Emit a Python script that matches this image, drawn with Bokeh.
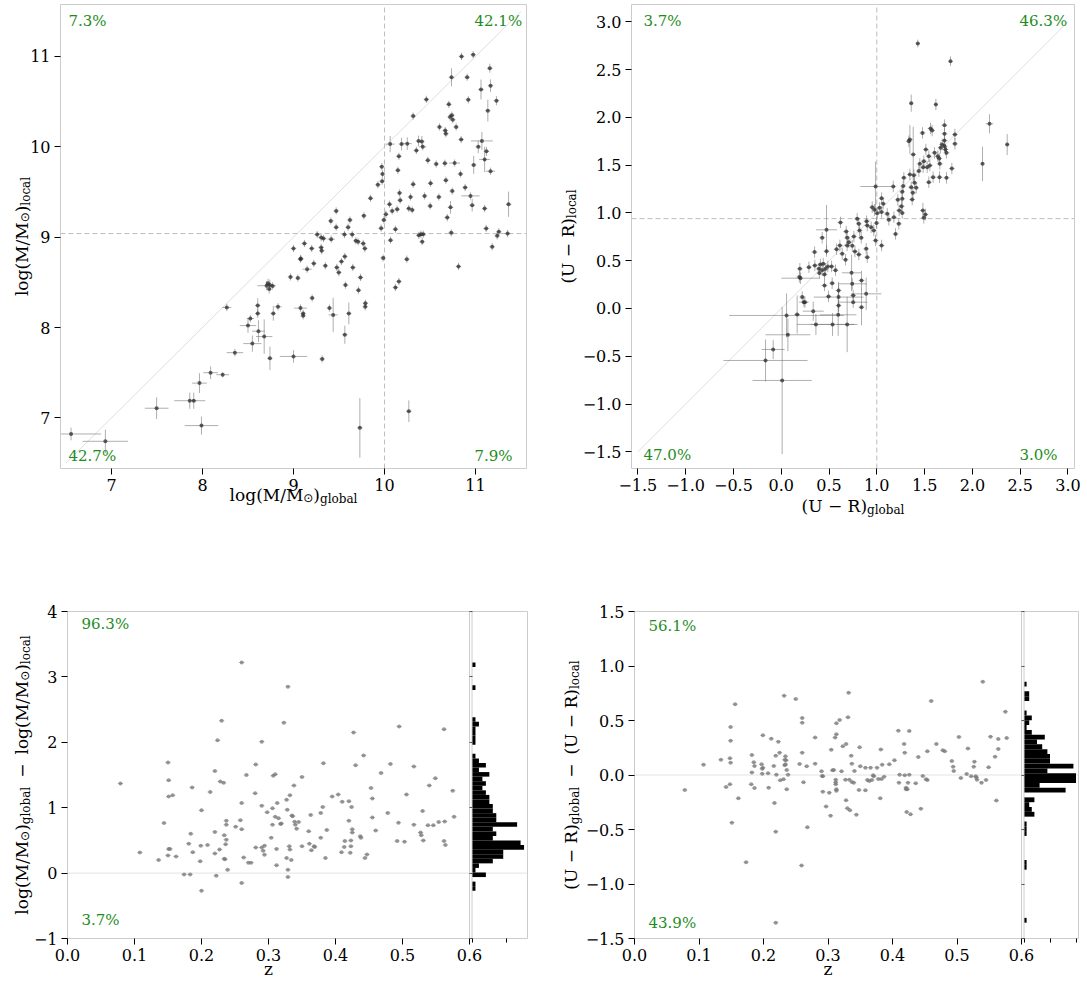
import glob
import numpy as np
from bokeh.plotting import figure
from bokeh.models import Range1d, FixedTicker, Label, LinearAxis, CustomJSTickFormatter
from bokeh.layouts import column, row
from bokeh.embed import file_html
from bokeh.resources import INLINE

# ---------------------------------------------------------------- data
# top-left: stellar mass, global vs local
tl_global = [6.556, 6.933, 7.496, 7.86, 7.904, 7.989, 7.967, 8.089, 8.222, 8.267, 8.356, 8.50, 8.526, 8.548, 8.607, 8.607, 8.615, 8.678, 8.741, 8.704, 8.72, 8.74, 8.733, 8.77, 8.778, 8.83,
             10.846, 10.974, 11.157, 10.736, 10.908, 11.165, 11.06, 10.92, 11.23, 10.46,
             11.135, 10.707, 10.74, 10.75, 10.72, 10.315, 10.604, 10.667, 10.674, 10.787,
             10.842, 11.07, 11.03, 11.12, 11.10, 10.98, 11.165, 10.062, 10.187, 10.25,
             10.374, 10.41, 10.42, 10.35, 10.158, 10.147, 10.476, 10.568, 10.663, 10.77,
             10.835, 9.97, 9.978, 9.974, 9.927, 9.846, 10.315, 10.506, 10.674, 10.744,
             10.886, 10.945, 10.963, 11.10, 11.363, 10.597, 10.44, 10.502, 10.725, 10.689,
             10.165, 10.172, 10.055, 10.139, 10.084, 10.267, 10.304, 10.286, 10.015, 9.993,
             9.963, 10.12, 10.066, 9.985, 10.245, 10.12, 10.158, 10.377, 10.40, 10.425,
             10.414, 10.733, 11.117, 11.256, 11.238, 11.352, 11.183, 10.813, 10.267, 9.729,
             9.0, 9.12, 9.2, 9.304, 9.31, 9.26, 9.304, 9.33, 9.414, 9.41,
             9.469, 9.469, 9.56, 9.60, 9.62, 9.645, 9.685, 9.71, 9.773, 9.766,
             9.784, 9.08, 9.077, 9.048, 8.967, 9.15, 9.223, 9.35, 9.476, 9.498,
             9.527, 9.564, 9.652, 9.571, 9.736, 9.714, 9.205, 9.79, 9.788, 9.077,
             9.106, 9.106, 9.395, 9.436, 9.608, 9.564, 9.0, 9.315]
tl_local = [6.822, 6.741, 7.107, 7.19, 7.19, 6.915, 7.385, 7.50, 7.478, 8.222, 7.722, 8.022, 8.10, 7.822, 8.244, 8.156, 7.96, 7.90, 7.659, 8.463, 8.49, 8.47, 8.426, 8.46, 8.156, 8.23,
            11.0, 11.02, 10.87, 10.77, 10.77, 10.676, 10.635, 10.52, 10.51, 10.525,
            10.40, 10.47, 10.35, 10.30, 10.33, 10.34, 10.22, 10.18, 10.145, 10.22,
            10.08, 10.065, 10.0, 9.95, 9.86, 9.80, 9.73, 10.03, 10.03, 10.035,
            10.064, 10.06, 10.0, 9.96, 9.895, 9.74, 9.85, 9.81, 9.818, 9.82,
            9.70, 9.78, 9.70, 9.62, 9.58, 9.43, 9.586, 9.597, 9.63, 9.51,
            9.55, 9.457, 9.354, 9.317, 9.365, 9.445, 9.457, 9.346, 9.33, 9.217,
            9.49, 9.41, 9.365, 9.31, 9.29, 9.317, 9.302, 9.445, 9.254, 9.19,
            9.10, 9.088, 8.967, 8.77, 8.757, 8.444, 8.51, 9.02, 9.033, 9.033,
            8.95, 9.048, 9.096, 9.06, 9.015, 9.04, 8.893, 8.676, 7.074, 6.89,
            8.875, 8.93, 8.875, 8.886, 8.85, 9.03, 8.996, 8.985, 8.978, 9.18,
            9.29, 9.11, 9.03, 9.11, 9.19, 9.03, 8.96, 8.95, 9.236, 8.93,
            8.875, 8.764, 8.757, 8.547, 8.56, 8.646, 8.71, 8.683, 8.665, 8.61,
            8.73, 8.787, 8.665, 8.47, 8.555, 8.414, 8.326, 8.27, 8.23, 8.215,
            8.156, 8.13, 8.215, 8.14, 8.156, 7.92, 7.68, 7.652]
tl_global_err = [0.33, 0.25, 0.13, 0.17, 0.03, 0.185, 0.08, 0.08, 0.07, 0.05, 0.09, 0.09, 0.04, 0.10, 0.03, 0.03, 0.07, 0.09, 0.03, 0.10, 0.03, 0.03, 0.03, 0.03, 0.03, 0.04,
                 0.03, 0.03, 0.03, 0.03, 0.03, 0.03, 0.03, 0.03, 0.03, 0.03,
                 0.03, 0.03, 0.03, 0.03, 0.03, 0.03, 0.03, 0.03, 0.03, 0.03,
                 0.03, 0.12, 0.03, 0.03, 0.06, 0.03, 0.05, 0.05, 0.03, 0.05,
                 0.03, 0.03, 0.04, 0.03, 0.03, 0.03, 0.03, 0.03, 0.03, 0.06,
                 0.03, 0.03, 0.03, 0.03, 0.03, 0.03, 0.03, 0.03, 0.03, 0.03,
                 0.03, 0.10, 0.03, 0.03, 0.03, 0.03, 0.03, 0.03, 0.03, 0.03,
                 0.03, 0.03, 0.03, 0.03, 0.03, 0.03, 0.03, 0.03, 0.03, 0.03,
                 0.03, 0.03, 0.03, 0.03, 0.03, 0.03, 0.03, 0.03, 0.03, 0.03,
                 0.03, 0.03, 0.03, 0.03, 0.03, 0.03, 0.03, 0.03, 0.03, 0.03,
                 0.03, 0.03, 0.03, 0.03, 0.03, 0.03, 0.03, 0.03, 0.04, 0.03,
                 0.03, 0.03, 0.03, 0.03, 0.03, 0.03, 0.03, 0.03, 0.03, 0.03,
                 0.03, 0.03, 0.03, 0.03, 0.03, 0.05, 0.03, 0.03, 0.03, 0.03,
                 0.03, 0.03, 0.03, 0.03, 0.03, 0.03, 0.03, 0.03, 0.03, 0.07,
                 0.03, 0.03, 0.03, 0.05, 0.03, 0.03, 0.15, 0.03]
tl_local_err = [0.07, 0.13, 0.12, 0.09, 0.09, 0.10, 0.11, 0.07, 0.03, 0.04, 0.04, 0.08, 0.04, 0.09, 0.08, 0.05, 0.12, 0.19, 0.13, 0.05, 0.05, 0.06, 0.05, 0.04, 0.08, 0.04,
                0.04, 0.04, 0.05, 0.10, 0.04, 0.07, 0.11, 0.04, 0.05, 0.04,
                0.12, 0.04, 0.04, 0.04, 0.04, 0.04, 0.04, 0.04, 0.04, 0.04,
                0.04, 0.10, 0.07, 0.05, 0.14, 0.10, 0.04, 0.09, 0.07, 0.07,
                0.06, 0.06, 0.04, 0.04, 0.04, 0.04, 0.04, 0.04, 0.04, 0.04,
                0.04, 0.04, 0.04, 0.04, 0.04, 0.04, 0.04, 0.04, 0.04, 0.04,
                0.04, 0.04, 0.07, 0.04, 0.14, 0.04, 0.04, 0.04, 0.07, 0.04,
                0.04, 0.04, 0.04, 0.04, 0.04, 0.04, 0.04, 0.04, 0.04, 0.04,
                0.04, 0.04, 0.04, 0.04, 0.04, 0.04, 0.04, 0.04, 0.04, 0.04,
                0.04, 0.04, 0.04, 0.04, 0.04, 0.04, 0.04, 0.04, 0.12, 0.33,
                0.04, 0.04, 0.04, 0.04, 0.04, 0.04, 0.04, 0.04, 0.04, 0.04,
                0.04, 0.04, 0.04, 0.04, 0.04, 0.04, 0.04, 0.04, 0.04, 0.04,
                0.04, 0.04, 0.04, 0.04, 0.04, 0.04, 0.04, 0.04, 0.04, 0.04,
                0.04, 0.04, 0.04, 0.04, 0.04, 0.04, 0.04, 0.04, 0.04, 0.04,
                0.04, 0.04, 0.04, 0.19, 0.12, 0.10, 0.07, 0.04]
tl_ticks = [7, 8, 9, 10, 11]
tl_diag = [6.5, 11.5]
tl_vline = 10.0
tl_hline = 9.04
tl_pct = ["7.3%", "42.1%", "42.7%", "7.9%"]       # upper-left, upper-right, lower-left, lower-right

# top-right: U-R colour, global vs local
tr_global = [0.01, -0.164, -0.084, 0.07, 0.056, 0.167, 0.237, 0.22, 0.248, 0.202,
             0.19, 0.195, 0.335, 0.363, 0.537, 0.69, 0.596, 0.60, 0.60, 0.60,
             0.495, 0.453, 0.533, 0.743, 0.753, 0.753, 0.84, 0.889, 0.84, 0.736,
             0.474, 0.429, 0.474, 0.349, 0.29, 0.352, 0.394, 0.41, 0.44, 0.429,
             0.464, 0.453, 0.40, 0.488, 0.527, 0.568, 0.579, 0.614, 0.62, 0.68,
             0.69, 0.708, 0.69, 0.673, 0.638, 0.743, 0.76, 0.771, 0.795, 0.812,
             0.82, 0.837, 0.812, 0.889, 0.90, 0.893, 0.90, 0.941, 0.969, 0.987,
             0.997, 0.987, 0.952, 0.976, 1.004, 1.029, 1.05, 1.05, 1.067, 1.05,
             1.109, 1.126, 1.172, 1.196, 1.179, 1.22, 1.234, 1.23,
             1.429, 1.771, 1.36, 1.618, 2.179, 2.364, 2.106, 1.708, 1.708, 1.708,
             1.708, 1.718, 1.729, 1.817, 1.817, 1.562, 1.579, 1.478, 1.346, 1.335,
             1.381, 1.513, 1.544, 1.604, 1.638, 1.653, 1.667, 1.684, 1.492, 1.45,
             1.485, 1.527, 1.555, 1.659, 1.785, 1.729, 1.656, 1.589, 1.544, 1.44,
             1.388, 1.395, 1.36, 1.346, 1.283, 1.276,
             1.266, 1.266, 1.37, 1.377, 1.412, 1.482, 1.509, 1.492, 1.259, 1.266]
tr_local = [-0.753, -0.544, -0.429, -0.275, -0.073, -0.063, 0.066, 0.119, 0.066, 0.317,
            0.33, 0.415, -0.028, -0.167, -0.167, -0.167, -0.066, 0.031, 0.119, 0.188,
            0.126, 0.241, 0.265, 0.258, 0.066, 0.136, 0.293, 0.153, 0.014, 0.373,
            0.823, 0.74, 0.60, 0.59, 0.432, 0.45, 0.415, 0.46, 0.467, 0.40,
            0.415, 0.356, 0.37, 0.44, 0.44, 0.40, 0.62, 0.66, 0.90, 0.805,
            0.74, 0.694, 0.66, 0.51, 0.572, 0.656, 0.753, 0.596, 0.938, 0.886,
            0.816, 0.74, 0.565, 0.624, 0.537, 0.913, 0.868, 0.85, 0.816, 0.711,
            0.893, 1.276, 1.06, 1.032, 0.997, 1.053, 1.008, 1.154, 1.095, 0.659,
            0.99, 0.927, 1.276, 0.78, 0.955, 1.137, 1.025, 0.886,
            2.772, 2.587, 2.148, 2.134, 1.932, 1.715, 1.513, 1.918, 1.827, 1.757,
            1.698, 1.663, 1.628, 1.82, 1.722, 1.883, 1.862, 1.837, 1.768, 1.75,
            1.611, 1.663, 1.593, 1.628, 1.593, 1.569, 1.681, 1.715, 1.541, 1.513,
            1.478, 1.478, 1.496, 1.513, 1.464, 1.367, 1.374, 1.374, 1.321, 1.437,
            1.395, 1.314, 1.269, 1.402, 1.367, 1.28,
            1.22, 1.147, 1.14, 1.21, 1.262, 1.025, 0.983, 0.948, 1.07, 1.0]
tr_global_err = [0.31, 0.44, 0.12, 0.235, 0.60, 0.03, 0.05, 0.03, 0.03, 0.20,
                 0.03, 0.03, 0.11, 0.20, 0.23, 0.11, 0.19, 0.03, 0.26, 0.03,
                 0.03, 0.03, 0.03, 0.15, 0.15, 0.03, 0.03, 0.16, 0.03, 0.10,
                 0.11, 0.03, 0.03, 0.03, 0.03, 0.03, 0.03, 0.03, 0.03, 0.03,
                 0.03, 0.03, 0.03, 0.03, 0.03, 0.03, 0.03, 0.03, 0.03, 0.03,
                 0.03, 0.03, 0.03, 0.03, 0.03, 0.03, 0.03, 0.03, 0.03, 0.03,
                 0.03, 0.03, 0.03, 0.03, 0.03, 0.03, 0.03, 0.03, 0.03, 0.03,
                 0.03, 0.16, 0.03, 0.03, 0.03, 0.03, 0.03, 0.03, 0.03, 0.03,
                 0.03, 0.03, 0.03, 0.03, 0.03, 0.03, 0.03, 0.03,
                 0.02, 0.02, 0.02, 0.02, 0.04, 0.02, 0.02, 0.03, 0.03, 0.03,
                 0.03, 0.03, 0.03, 0.03, 0.03, 0.03, 0.03, 0.03, 0.03, 0.03,
                 0.03, 0.03, 0.03, 0.03, 0.03, 0.03, 0.03, 0.03, 0.03, 0.03,
                 0.03, 0.03, 0.03, 0.03, 0.03, 0.03, 0.03, 0.03, 0.03, 0.03,
                 0.03, 0.03, 0.03, 0.03, 0.03, 0.03,
                 0.03, 0.03, 0.03, 0.03, 0.03, 0.03, 0.03, 0.03, 0.03, 0.03]
tr_local_err = [0.77, 0.22, 0.10, 0.17, 0.23, 0.20, 0.05, 0.06, 0.06, 0.06,
                0.06, 0.06, 0.10, 0.11, 0.12, 0.29, 0.22, 0.06, 0.16, 0.06,
                0.06, 0.06, 0.06, 0.06, 0.06, 0.06, 0.10, 0.17, 0.19, 0.19,
                0.26, 0.06, 0.06, 0.06, 0.06, 0.06, 0.06, 0.06, 0.06, 0.06,
                0.06, 0.06, 0.06, 0.06, 0.06, 0.06, 0.06, 0.06, 0.06, 0.06,
                0.06, 0.06, 0.06, 0.06, 0.06, 0.06, 0.06, 0.06, 0.06, 0.06,
                0.06, 0.06, 0.06, 0.06, 0.06, 0.06, 0.06, 0.06, 0.06, 0.06,
                0.06, 0.26, 0.06, 0.06, 0.06, 0.06, 0.06, 0.06, 0.06, 0.06,
                0.06, 0.06, 0.06, 0.06, 0.06, 0.06, 0.06, 0.06,
                0.04, 0.05, 0.09, 0.06, 0.10, 0.11, 0.18, 0.06, 0.06, 0.06,
                0.06, 0.06, 0.06, 0.06, 0.06, 0.06, 0.06, 0.06, 0.15, 0.06,
                0.29, 0.06, 0.06, 0.06, 0.06, 0.06, 0.06, 0.06, 0.06, 0.06,
                0.06, 0.06, 0.06, 0.06, 0.06, 0.06, 0.06, 0.06, 0.06, 0.06,
                0.06, 0.06, 0.06, 0.06, 0.06, 0.06,
                0.06, 0.06, 0.06, 0.06, 0.06, 0.08, 0.06, 0.06, 0.06, 0.06]
tr_ticks = [-1.5, -1.0, -0.5, 0.0, 0.5, 1.0, 1.5, 2.0, 2.5, 3.0]
tr_diag = [-1.5, 3.0]
tr_vline = 1.0
tr_hline = 0.94
tr_pct = ["3.7%", "46.3%", "47.0%", "3.0%"]

# bottom-left: mass difference vs redshift
bl_z = [0.079, 0.108, 0.136, 0.144, 0.150, 0.151, 0.151, 0.157, 0.151, 0.153,
        0.150, 0.162, 0.174, 0.183, 0.181, 0.184, 0.186, 0.187, 0.198, 0.200,
        0.200, 0.199, 0.209, 0.213, 0.220, 0.220, 0.220, 0.222, 0.224, 0.227,
        0.228, 0.230, 0.233, 0.234, 0.234, 0.235, 0.237, 0.237, 0.237, 0.236,
        0.239, 0.251, 0.258, 0.260, 0.260, 0.260, 0.260, 0.263, 0.267, 0.270,
        0.274, 0.280, 0.281, 0.281, 0.290, 0.290, 0.290, 0.292, 0.294, 0.294,
        0.298, 0.304, 0.306, 0.307, 0.310, 0.306, 0.312, 0.310, 0.313, 0.315,
        0.312, 0.318, 0.319, 0.323, 0.327, 0.327, 0.329, 0.328, 0.329, 0.329,
        0.331, 0.332, 0.332, 0.334, 0.335, 0.336, 0.338, 0.339, 0.340, 0.342,
        0.345, 0.350, 0.350, 0.360, 0.361, 0.363, 0.364, 0.368, 0.369, 0.378,
        0.378, 0.381, 0.382, 0.385, 0.387, 0.395, 0.404, 0.410, 0.409, 0.413,
        0.414, 0.420, 0.420, 0.422, 0.423, 0.423, 0.424, 0.425, 0.425, 0.427,
        0.430, 0.437, 0.438, 0.442, 0.444, 0.447, 0.453, 0.455, 0.455, 0.460,
        0.468, 0.478, 0.482, 0.492, 0.494, 0.495, 0.503, 0.506, 0.517, 0.517,
        0.530, 0.527, 0.528, 0.531, 0.538, 0.540, 0.546, 0.549, 0.554, 0.562,
        0.562, 0.563, 0.564, 0.575, 0.577]
bl_dmass = [1.37, 0.316, 0.20, 0.765, 1.69, 1.42, 1.17, 1.19, 0.367, 0.37,
            0.27, 0.255, -0.02, -0.02, 0.45, 0.60, 1.31, 0.32, 0.18, 0.96,
            -0.27, 0.42, 0.43, 1.24, 0.63, 1.56, 0.30, -0.04, 2.03, 0.36,
            1.40, 2.33, 1.38, 0.58, 0.22, 0.21, 0.80, 0.74, 0.51, 0.44,
            0.05, 0.71, 0.81, 3.22, 1.07, 0.67, -0.15, 0.24, 1.50, 0.16,
            0.16, 1.22, 1.66, 0.39, 2.01, 1.03, 0.39, 0.34, 0.42, 0.28,
            0.93, 0.54, 0.99, 1.49, 1.51, 0.74, 0.37, 0.86, 1.07, 0.84,
            0.12, 0.75, 0.76, 2.30, 1.12, 0.23, 2.85, 0.97, 0.05, -0.06,
            0.41, 1.19, 0.36, 0.20, 0.88, 0.87, 1.34, 0.785, 0.74, 0.68,
            0.78, 1.47, 0.41, 0.64, 0.45, 0.89, 0.35, 0.41, 0.40, 0.92,
            0.54, 1.01, 1.68, 0.23, 0.66, 1.17, 1.20, 1.09, 0.32, 0.40,
            0.49, 1.10, 0.80, 0.31, 0.41, 0.50, 1.01, 0.67, 0.62, 2.15,
            1.65, 0.565, 0.54, 1.80, 0.23, 0.285, 1.30, 1.14, 0.85, 0.65,
            1.53, 0.92, 1.67, 0.49, 0.77, 2.24, 0.48, 1.20, 1.63, 0.74,
            0.95, 0.62, 0.58, 0.50, 0.73, 1.34, 0.73, 1.45, 0.78, 2.20,
            0.49, 0.79, 0.43, 1.26, 0.86]
bl_hist_range = [-0.27, 3.22]
bl_hist_counts = [1, 1, 0, 4, 1, 2, 6, 9, 9, 15,
                  14, 6, 7, 6, 13, 7, 7, 6, 6, 5,
                  5, 4, 3, 4, 3, 5, 2, 4, 2, 1,
                  0, 0, 1, 1, 1, 1, 2, 1, 0, 0,
                  0, 0, 0, 0, 1, 0, 0, 0, 0, 1]
bl_yticks = [-1, 0, 1, 2, 3, 4]
bl_pct = ["96.3%", "3.7%"]

# bottom-right: colour difference vs redshift
br_z = [0.078, 0.107, 0.134, 0.142, 0.148, 0.148, 0.149, 0.149, 0.149, 0.151,
        0.156, 0.161, 0.173, 0.181, 0.182, 0.182, 0.185, 0.186, 0.186, 0.197,
        0.198, 0.198, 0.199, 0.199, 0.207, 0.208, 0.212, 0.216, 0.217, 0.219,
        0.219, 0.219, 0.220, 0.223, 0.225, 0.226, 0.231, 0.232, 0.233, 0.233,
        0.234, 0.234, 0.235, 0.236, 0.236, 0.238, 0.250, 0.256, 0.260, 0.260,
        0.260, 0.259, 0.262, 0.267, 0.268, 0.280, 0.280, 0.290, 0.291, 0.292,
        0.292, 0.297, 0.302, 0.304, 0.305, 0.307, 0.309, 0.311, 0.312, 0.313,
        0.312, 0.312, 0.313, 0.313, 0.313, 0.318, 0.321, 0.323, 0.328, 0.327,
        0.328, 0.330, 0.331, 0.332, 0.333, 0.334, 0.336, 0.337, 0.337, 0.340,
        0.341, 0.344, 0.348, 0.349, 0.350, 0.358, 0.358, 0.361, 0.364, 0.366,
        0.368, 0.370, 0.371, 0.376, 0.378, 0.381, 0.382, 0.383, 0.384, 0.387,
        0.395, 0.403, 0.409, 0.410, 0.411, 0.418, 0.419, 0.419, 0.421, 0.421,
        0.422, 0.423, 0.424, 0.426, 0.426, 0.428, 0.436, 0.440, 0.444, 0.447,
        0.452, 0.454, 0.454, 0.460, 0.468, 0.478, 0.481, 0.492, 0.494, 0.495,
        0.503, 0.506, 0.515, 0.517, 0.522, 0.526, 0.527, 0.529, 0.530, 0.531,
        0.538, 0.540, 0.545, 0.549, 0.552, 0.559, 0.561, 0.564, 0.564, 0.575,
        0.577]
br_dcolour = [-0.138, 0.095, 0.14, -0.11, -0.086, 0.153, 0.113, 0.315, 0.44, -0.437,
              0.65, -0.214, -0.80, -0.086, 0.183, 0.024, 0.116, 0.083, -0.12, 0.098,
              0.058, 0.012, 0.364, 0.067, 0.015, -0.116, 0.333, 0.083, -0.257, -0.52,
              -1.355, 0.177, 0.003, 0.306, 0.205, -0.049, -0.04, 0.728, 0.089, 0.14,
              0.171, 0.098, 0.135, 0.046, -0.131, 0.003, 0.697, 0.101, 0.523, 0.48,
              0.205, -0.83, -0.067, 0.08, -0.48, 0.343, 0.104, 0.034, -0.009, -0.012,
              -0.153, -0.29, -0.162, -0.373, 0.232, 0.043, 0.046, 0.343, -0.043, -0.131,
              -0.067, -0.086, 0.474, 0.373, -0.144, 0.505, 0.034, 0.263, 0.284, -0.043,
              -0.232, -0.306, 0.529, 0.755, -0.043, -0.324, 0.177, 0.104, -0.064, -0.07,
              0.037, -0.364, -0.138, 0.254, 0.08, -0.141, 0.067, -0.046, -0.055, 0.067,
              -0.046, -0.003, -0.012, 0.067, -0.037, -0.214, 0.235, -0.037, 0.095, -0.015,
              0.098, 0.135, 0.407, -0.07, 0.003, 0.284, 0.205, -0.003, -0.116, -0.131,
              -0.34, -0.131, -0.07, 0.404, 0.003, -0.361, -0.076, 0.165, -0.309, -0.009,
              -0.04, 0.217, -0.046, 0.679, 0.284, 0.226, 0.217, 0.128, 0.076, 0.037,
              0.349, -0.028, 0.009, 0.242, -0.012, 0.076, 0.122, -0.012, -0.024, -0.043,
              -0.07, 0.856, -0.046, 0.07, 0.352, 0.168, -0.235, 0.33, 0.239, 0.581,
              0.339]
br_hist_range = [-1.355, 0.856]
br_hist_counts = [1, 0, 0, 0, 0, 0, 0, 0, 0, 0,
                  0, 1, 1, 0, 0, 0, 0, 0, 1, 1,
                  1, 0, 4, 3, 2, 4, 0, 16, 6, 20,
                  20, 9, 19, 10, 10, 9, 7, 5, 8, 3,
                  1, 2, 3, 1, 0, 0, 2, 2, 0, 1]
br_yticks = [-1.5, -1.0, -0.5, 0.0, 0.5, 1.0, 1.5]
br_pct = ["56.1%", "43.9%"]
z_ticks = [0.0, 0.1, 0.2, 0.3, 0.4, 0.5, 0.6]
hist_ticks = [0, 10, 20]

# ---------------------------------------------------------------- style / geometry
SERIF = "DejaVu Serif"
SANS = "DejaVu Sans"
PCT_COLOR = "#1e8c1e"
FRAME_COLOR = "#cccccc"
DASH_COLOR = "#bdbdbd"
TICK_PX = 16
PCT_PX = 15
LAB_PX = 17
SUB_PX = 12
GAP_PX = 9

# page-pixel geometry of each visible frame (L, T, W, H) and its data limits
G_TL = dict(L=60, T=4, W=466, H=464, x=(6.44, 11.56), y=(6.44, 11.575))
G_TR = dict(L=631, T=4, W=443, H=464, x=(-1.566, 3.068), y=(-1.674, 3.18))
G_BL = dict(L=67, T=611, W=460, H=327, x=(0.0, 0.6 * 460 / 402), y=(-1.0, 4.0))
G_BR = dict(L=634, T=611, W=444, H=327, x=(0.0, 0.6 * 444 / 387), y=(-1.5, 1.5))
HIST_BL = dict(zero_px=471.5, px_per_count=3.47)
HIST_BR = dict(zero_px=1023.5, px_per_count=2.6)
# page-pixel box of every figure canvas: X0, Y0, width, height
C_TL = (0, 0, 540, 560)
C_TR = (540, 0, 547, 560)
C_BL = (0, 560, 540, 421)
C_BR = (540, 560, 547, 421)


def xd(g, px):
    x0, x1 = g["x"]
    return x0 + (px - g["L"]) / g["W"] * (x1 - x0)


def yd(g, py):
    y0, y1 = g["y"]
    return y1 - (py - g["T"]) / g["H"] * (y1 - y0)


try:
    from PIL import ImageFont
except Exception:
    ImageFont = None


def _find(name):
    for base in ("/usr/share/fonts", "/usr/local/share/fonts", "/usr/share", "/usr/lib"):
        hits = glob.glob(base + "/**/" + name, recursive=True)
        if hits:
            return hits[0]
    return None


_FONT_FILES = {SERIF: _find("DejaVuSerif.ttf"), SANS: _find("DejaVuSans.ttf")}
_font_cache = {}


def text_width(text, size, family):
    if not text:
        return 0.0
    path = _FONT_FILES.get(family)
    if ImageFont is not None and path:
        try:
            f = _font_cache.get(path)
            if f is None:
                f = ImageFont.truetype(path, 200)
                _font_cache[path] = f
            return f.getlength(text) * size / 200.0
        except Exception:
            pass
    return 0.6 * size * len(text)


def math_label(p, g, pieces, px, py, vertical=False):
    """pieces: (text, size, drop, family) or ("", gap_px, 0, None);
    (px, py): page pixel of the label's centre line"""
    x, y = xd(g, px), yd(g, py)
    widths = [text_width(t, s, f) if t else s for t, s, d, f in pieces]
    pos = -sum(widths) / 2.0
    for (t, s, d, f), w in zip(pieces, widths):
        if t:
            if vertical:
                lab = Label(x=x, y=y, x_offset=d, y_offset=pos, angle=np.pi / 2, text=t)
            else:
                lab = Label(x=x, y=y, x_offset=pos, y_offset=-d, text=t)
            lab.text_font = f
            lab.text_font_size = f"{s}px"
            lab.text_align = "left"
            lab.text_baseline = "alphabetic"
            lab.text_color = "black"
            p.add_layout(lab)
        pos += w


def logm(sub):
    return [("log(M/M", LAB_PX, 0, SERIF), ("\u2299", SUB_PX, 3, SANS),
            (")", LAB_PX, 0, SERIF), (sub, SUB_PX, 4, SERIF)]


def ucr(sub):
    return [("(U \u2212 R)", LAB_PX, 0, SERIF), (sub, SUB_PX, 4, SERIF)]


MINUS = [("", GAP_PX, 0, None), ("\u2212", LAB_PX, 0, SERIF), ("", GAP_PX, 0, None)]


def pct_label(p, g, text, px, py):
    p.add_layout(Label(x=xd(g, px), y=yd(g, py), text=text, text_font=SERIF,
                       text_font_size=f"{PCT_PX}px", text_color=PCT_COLOR,
                       text_align="left", text_baseline="middle"))


def style_axis(ax, tick_out=6, labels=True):
    ax.axis_line_color = None
    ax.major_tick_line_color = "black"
    ax.major_tick_out = tick_out
    ax.major_tick_in = 0
    ax.minor_tick_line_color = None
    ax.major_label_text_font = SERIF
    ax.major_label_text_font_size = f"{TICK_PX}px" if labels else "1px"
    ax.major_label_text_color = "black"
    ax.major_label_standoff = 4


def make_fig(g, c):
    X0, Y0, W, H = c
    p = figure(width=W, height=H,
               x_range=Range1d(xd(g, X0), xd(g, X0 + W)),
               y_range=Range1d(yd(g, Y0 + H), yd(g, Y0)),
               min_border=0, min_border_left=0, min_border_right=0,
               min_border_top=0, min_border_bottom=0,
               x_axis_location=None, y_axis_location=None,
               output_backend="svg", toolbar_location=None, tools="")
    p.grid.visible = False
    p.outline_line_color = None
    p.background_fill_color = "white"
    p.border_fill_color = "white"
    return p


def add_axes(p, g, xticks, xfmt, yticks, yfmt):
    xa = LinearAxis(fixed_location=g["y"][0], ticker=FixedTicker(ticks=xticks),
                    formatter=CustomJSTickFormatter(code=xfmt))
    style_axis(xa)
    p.add_layout(xa, "below")
    ya = LinearAxis(fixed_location=g["x"][0], ticker=FixedTicker(ticks=yticks),
                    formatter=CustomJSTickFormatter(code=yfmt))
    style_axis(ya)
    p.add_layout(ya, "left")


def draw_frame(p, g):
    x0, x1 = g["x"]
    y0, y1 = g["y"]
    p.quad(left=[x0], right=[x1], bottom=[y0], top=[y1],
           fill_alpha=0, line_color=FRAME_COLOR, line_width=1)


def scatter_err(p, g, x, y, xe, ye):
    n = min(len(x), len(y), len(xe), len(ye))
    x, y, xe, ye = (np.asarray(a[:n], dtype=float) for a in (x, y, xe, ye))
    gx0, gx1 = g["x"]
    gy0, gy1 = g["y"]
    p.segment(x0=np.clip(x - xe, gx0, gx1), y0=y, x1=np.clip(x + xe, gx0, gx1), y1=y,
              line_color="#6e6e6e", line_alpha=0.55, line_width=1)
    p.segment(x0=x, y0=np.clip(y - ye, gy0, gy1), x1=x, y1=np.clip(y + ye, gy0, gy1),
              line_color="#6e6e6e", line_alpha=0.55, line_width=1)
    p.scatter(x, y, size=4, fill_color="#2e2e2e", fill_alpha=0.75, line_color=None)


FMT0 = "return tick.toFixed(0).replace('-', '\\u2212');"
FMT1 = "return tick.toFixed(1).replace('-', '\\u2212');"


def top_panel(g, c, gx, ly, gxe, lye, ticks, fmt, diag, vline, hline, pcts, pct_pos,
              xlabel, xlab_y, ylabel, ylab_x):
    p = make_fig(g, c)
    p.line(diag, diag, line_color="#dedede", line_width=1)
    p.line([vline, vline], list(g["y"]), line_color=DASH_COLOR, line_dash="5 3", line_width=1)
    p.line(list(g["x"]), [hline, hline], line_color=DASH_COLOR, line_dash="5 3", line_width=1)
    scatter_err(p, g, gx, ly, gxe, lye)
    draw_frame(p, g)
    add_axes(p, g, ticks, fmt, ticks, fmt)
    for t, (px, py) in zip(pcts, pct_pos):
        pct_label(p, g, t, px, py)
    math_label(p, g, xlabel, g["L"] + g["W"] / 2.0, xlab_y)
    math_label(p, g, ylabel, ylab_x, g["T"] + g["H"] / 2.0, vertical=True)
    return p


p1 = top_panel(G_TL, C_TL, tl_global, tl_local, tl_global_err, tl_local_err, tl_ticks, FMT0,
               tl_diag, tl_vline, tl_hline, tl_pct, [(68, 20), (474, 20), (68, 455), (474, 455)],
               logm("global"), 494, logm("local"), 21)
p2 = top_panel(G_TR, C_TR, tr_global, tr_local, tr_global_err, tr_local_err, tr_ticks, FMT1,
               tr_diag, tr_vline, tr_hline, tr_pct, [(643, 20), (1019, 20), (643, 454), (1019, 454)],
               ucr("global"), 505, ucr("local"), 567)


def bottom_panel(g, c, hist, z, d, hrange, hcounts, yticks, yfmt, pcts, pct_pos, ylabel, ylab_x):
    X0, Y0, W, H = c
    p = make_fig(g, c)
    main_end = z_ticks[-1]
    main_right_px = g["L"] + (main_end - g["x"][0]) / (g["x"][1] - g["x"][0]) * g["W"]
    ppc = hist["px_per_count"]
    p.extra_x_ranges = {"hist": Range1d((X0 - hist["zero_px"]) / ppc, (X0 + W - hist["zero_px"]) / ppc)}
    gy0, gy1 = g["y"]
    p.line(list(g["x"]), [0, 0], line_color="#e3e3e3", line_width=1)
    n = min(len(z), len(d))
    zz = np.asarray(z[:n], dtype=float)
    dd = np.asarray(d[:n], dtype=float)
    p.segment(x0=zz - 0.004, y0=dd, x1=zz + 0.004, y1=dd, line_color="#8a8a8a", line_alpha=0.6, line_width=1)
    p.scatter(zz, dd, size=4, fill_color="#7a7a7a", fill_alpha=0.75, line_color=None)
    edges = np.linspace(hrange[0], hrange[1], len(hcounts) + 1)
    p.quad(left=0, right=np.asarray(hcounts, dtype=float), bottom=edges[:-1], top=edges[1:],
           x_range_name="hist", fill_color="black", line_color=None)
    draw_frame(p, g)
    p.line([main_end, main_end], [gy0, gy1], line_color=FRAME_COLOR, line_width=1)
    p.line([0, 0], [gy0, gy1], x_range_name="hist", line_color=FRAME_COLOR, line_width=1)
    add_axes(p, g, z_ticks, "return tick.toFixed(1);", yticks, yfmt)
    # histogram axes: unlabelled ticks on its own bottom and left edges
    h_max = (g["L"] + g["W"] - hist["zero_px"]) / ppc
    hx = LinearAxis(x_range_name="hist", fixed_location=gy0,
                    ticker=FixedTicker(ticks=[t for t in hist_ticks if t <= h_max]),
                    formatter=CustomJSTickFormatter(code="return '';"))
    style_axis(hx, tick_out=4, labels=False)
    p.add_layout(hx, "below")
    hy = LinearAxis(fixed_location=xd(g, hist["zero_px"]), ticker=FixedTicker(ticks=yticks),
                    formatter=CustomJSTickFormatter(code="return '';"))
    style_axis(hy, tick_out=3, labels=False)
    hy.major_tick_line_color = "#555555"
    p.add_layout(hy, "left")
    for t, (px, py) in zip(pcts, pct_pos):
        pct_label(p, g, t, px, py)
    math_label(p, g, [("z", LAB_PX, 0, SERIF)], (g["L"] + main_right_px) / 2.0, 968)
    math_label(p, g, ylabel, ylab_x, g["T"] + g["H"] / 2.0, vertical=True)
    return p


p3 = bottom_panel(G_BL, C_BL, HIST_BL, bl_z, bl_dmass, bl_hist_range, bl_hist_counts,
                  bl_yticks, FMT0, bl_pct, [(81, 623), (81, 919)],
                  logm("global") + MINUS + logm("local"), 21)
p4 = bottom_panel(G_BR, C_BR, HIST_BR, br_z, br_dcolour, br_hist_range, br_hist_counts,
                  br_yticks, FMT1, br_pct, [(648, 625), (648, 922)],
                  ucr("global") + MINUS + ucr("local"), 570)

layout = column(row(p1, p2), row(p3, p4))
open("out.html", "w").write(file_html(layout, INLINE))
